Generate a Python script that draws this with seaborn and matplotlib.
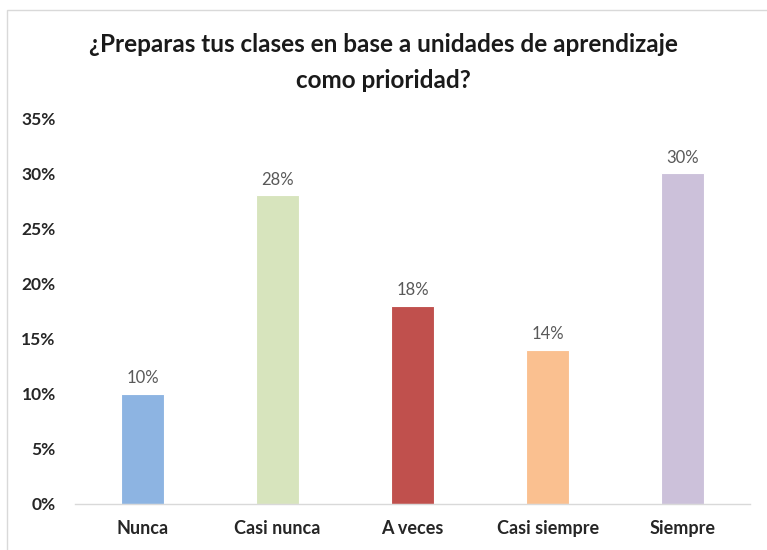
import matplotlib
matplotlib.use('Agg')
import matplotlib.pyplot as plt
import seaborn as sns
import pandas as pd
from matplotlib.patches import Rectangle
from matplotlib.ticker import FuncFormatter

# Chart data
categories = ['Nunca', 'Casi nunca', 'A veces', 'Casi siempre', 'Siempre']
values = [0.10, 0.28, 0.18, 0.14, 0.30]
bar_colors = ['#8DB4E2', '#D7E4BD', '#C0504D', '#FAC090', '#CCC1DA']
title = '¿Preparas tus clases en base a unidades de aprendizaje\ncomo prioridad?'

df = pd.DataFrame({'respuesta': categories, 'porcentaje': values})

sns.set_style('white')
plt.rcParams['font.family'] = ['Lato', 'DejaVu Sans']

fig = plt.figure(figsize=(7.67, 5.5), dpi=100)
ax = fig.add_axes([0.098, 0.084, 0.88, 0.701])

sns.barplot(data=df, x='respuesta', y='porcentaje', hue='respuesta',
            palette=bar_colors, saturation=1, width=0.32, legend=False,
            ax=ax, edgecolor='white', linewidth=0.8)

# Value labels above bars
for p, v in zip(ax.patches, values):
    ax.text(p.get_x() + p.get_width() / 2, v + 0.007, f'{v:.0%}',
            ha='center', va='bottom', fontsize=12, color='#595959')

ax.set_ylim(0, 0.35)
ax.set_yticks([i * 0.05 for i in range(8)])
ax.yaxis.set_major_formatter(FuncFormatter(lambda y, _: f'{y:.0%}'))
ax.set_xlabel('')
ax.set_ylabel('')
ax.tick_params(axis='y', length=0, pad=14, labelsize=12.5)
ax.tick_params(axis='x', length=0, pad=12, labelsize=13)
for lbl in ax.get_xticklabels() + ax.get_yticklabels():
    lbl.set_fontweight('bold')

for s in ['top', 'right', 'left']:
    ax.spines[s].set_visible(False)
ax.spines['bottom'].set_color('#D9D9D9')
ax.spines['bottom'].set_linewidth(1)

fig.text(0.5, 0.887, title, ha='center', va='center', fontsize=17.5,
         fontweight='bold', color='#1a1a1a', linespacing=1.7)

# Chart frame (cut off on right and bottom)
fig.patches.append(Rectangle((7 / 767, -0.05), 1.2, 1 - 10 / 550 + 0.05,
                             transform=fig.transFigure, fill=False,
                             edgecolor='#D9D9D9', linewidth=1))

fig.savefig('out.png', dpi=100)
